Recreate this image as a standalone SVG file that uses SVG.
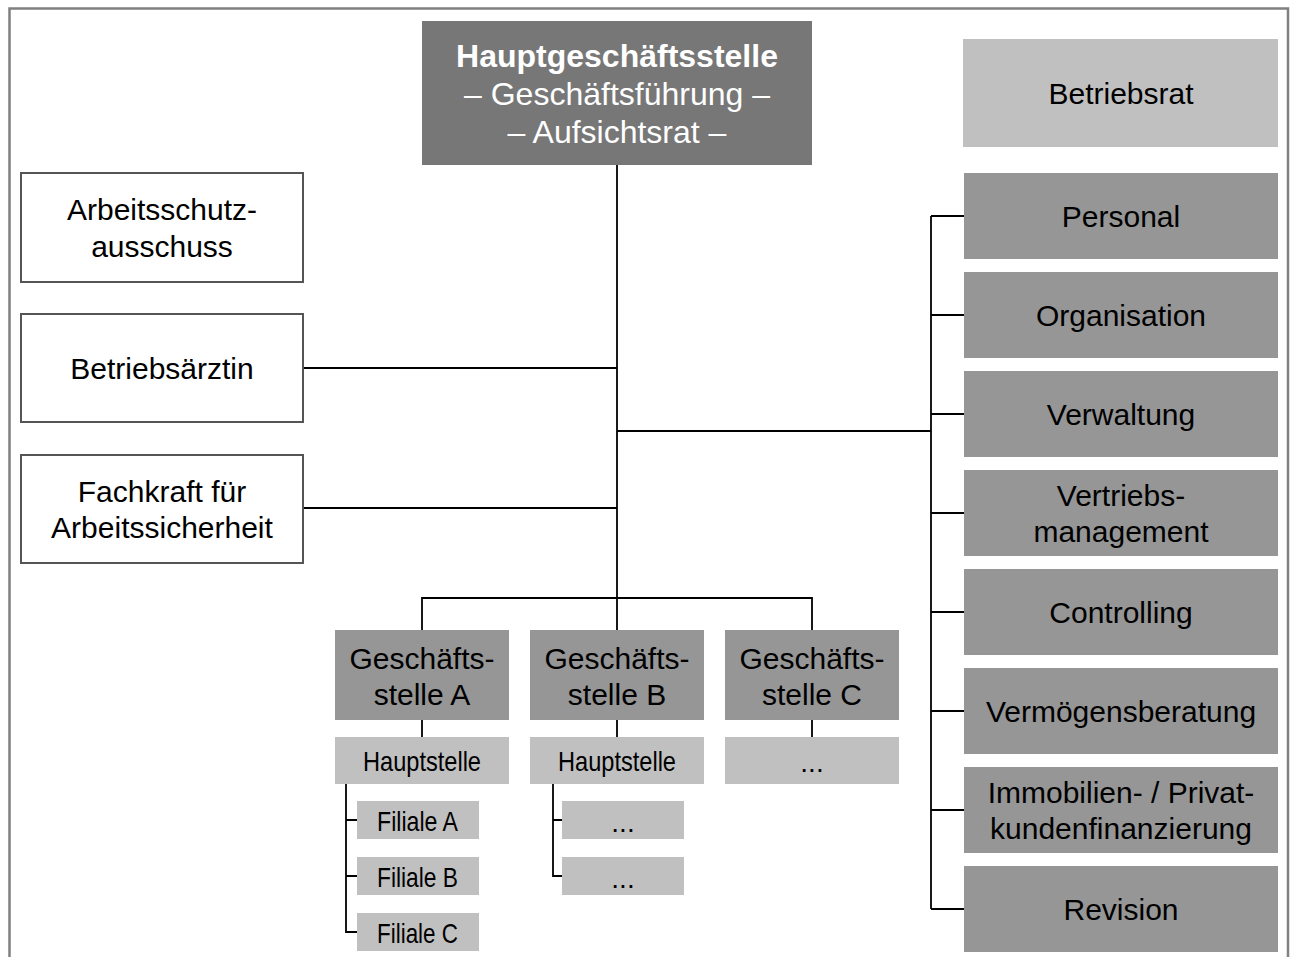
<svg xmlns="http://www.w3.org/2000/svg" width="1295" height="957" viewBox="0 0 1295 957">
<style>
text{font-family:"Liberation Sans",Arial,sans-serif;text-anchor:middle;fill:#000}
.t{font-size:30px}
.top{font-size:32px;fill:#fff}
.n{font-size:28px}
.dark{fill:#777777}
.mid{fill:#969696}
.light{fill:#c0c0c0}
.white{fill:#fff;stroke:#555;stroke-width:2}
.c{fill:none;stroke:#000;stroke-width:1.8}
</style>
<rect width="1295" height="957" fill="#fff"/>
<path d="M9.5,957 V8.5 H1288 V957" fill="none" stroke="#808080" stroke-width="2.5"/>
<g id="connectors" class="c">
<path d="M617,165 V598"/>
<path d="M303,368 H617"/>
<path d="M303,508 H617"/>
<path d="M617,431 H931"/>
<path d="M931,216 V909"/>
<path d="M931,216 H964 M931,315 H964 M931,414 H964 M931,513 H964 M931,612 H964 M931,711 H964 M931,810 H964 M931,909 H964"/>
<path d="M422,630 V598 H812 V630 M617,598 V630"/>
<path d="M422,720 V737 M617,720 V737 M812,720 V737"/>
<path d="M346,784 V932 H357 M346,820 H357 M346,876 H357"/>
<path d="M553,784 V876 H562 M553,820 H562"/>
</g>
<g id="hauptgeschaeftsstelle">
<rect class="dark" x="422" y="21" width="390" height="144"/>
<text class="top" x="617" y="67" font-weight="bold">Hauptgeschäftsstelle</text>
<text class="top" x="617" y="105">– Geschäftsführung –</text>
<text class="top" x="617" y="143">– Aufsichtsrat –</text>
</g>
<g id="betriebsrat">
<rect class="light" x="963" y="39" width="315" height="108"/>
<text class="t" x="1121" y="104">Betriebsrat</text>
</g>
<g id="arbeitsschutzausschuss">
<rect class="white" x="21" y="173" width="282" height="109"/>
<text class="t" x="162" y="220">Arbeitsschutz-</text>
<text class="t" x="162" y="257">ausschuss</text>
</g>
<g id="betriebsaerztin">
<rect class="white" x="21" y="314" width="282" height="108"/>
<text class="t" x="162" y="379">Betriebsärztin</text>
</g>
<g id="fachkraft">
<rect class="white" x="21" y="455" width="282" height="108"/>
<text class="t" x="162" y="502">Fachkraft für</text>
<text class="t" x="162" y="538">Arbeitssicherheit</text>
</g>
<g id="personal">
<rect class="mid" x="964" y="173" width="314" height="86"/>
<text class="t" x="1121" y="227">Personal</text>
</g>
<g id="organisation">
<rect class="mid" x="964" y="272" width="314" height="86"/>
<text class="t" x="1121" y="326">Organisation</text>
</g>
<g id="verwaltung">
<rect class="mid" x="964" y="371" width="314" height="86"/>
<text class="t" x="1121" y="425">Verwaltung</text>
</g>
<g id="vertriebsmanagement">
<rect class="mid" x="964" y="470" width="314" height="86"/>
<text class="t" x="1121" y="506">Vertriebs-</text>
<text class="t" x="1121" y="542">management</text>
</g>
<g id="controlling">
<rect class="mid" x="964" y="569" width="314" height="86"/>
<text class="t" x="1121" y="623">Controlling</text>
</g>
<g id="vermoegensberatung">
<rect class="mid" x="964" y="668" width="314" height="86"/>
<text class="t" x="1121" y="722">Vermögensberatung</text>
</g>
<g id="immobilien">
<rect class="mid" x="964" y="767" width="314" height="86"/>
<text class="t" x="1121" y="803">Immobilien- / Privat-</text>
<text class="t" x="1121" y="839">kundenfinanzierung</text>
</g>
<g id="revision">
<rect class="mid" x="964" y="866" width="314" height="86"/>
<text class="t" x="1121" y="920">Revision</text>
</g>
<g id="gs-a">
<rect class="mid" x="335" y="630" width="174" height="90"/>
<text class="t" x="422" y="669">Geschäfts-</text>
<text class="t" x="422" y="705">stelle A</text>
</g>
<g id="gs-b">
<rect class="mid" x="530" y="630" width="174" height="90"/>
<text class="t" x="617" y="669">Geschäfts-</text>
<text class="t" x="617" y="705">stelle B</text>
</g>
<g id="gs-c">
<rect class="mid" x="725" y="630" width="174" height="90"/>
<text class="t" x="812" y="669">Geschäfts-</text>
<text class="t" x="812" y="705">stelle C</text>
</g>
<g id="hs-a">
<rect class="light" x="335" y="737" width="174" height="47"/>
<text class="n" x="422" y="771" textLength="118" lengthAdjust="spacingAndGlyphs">Hauptstelle</text>
</g>
<g id="hs-b">
<rect class="light" x="530" y="737" width="174" height="47"/>
<text class="n" x="617" y="771" textLength="118" lengthAdjust="spacingAndGlyphs">Hauptstelle</text>
</g>
<g id="hs-c">
<rect class="light" x="725" y="737" width="174" height="47"/>
<text class="n" x="812" y="772">...</text>
</g>
<g id="filiale-a">
<rect class="light" x="357" y="801" width="122" height="38"/>
<text class="n" x="417.5" y="831" textLength="81" lengthAdjust="spacingAndGlyphs">Filiale A</text>
</g>
<g id="filiale-b">
<rect class="light" x="357" y="857" width="122" height="38"/>
<text class="n" x="417.5" y="887" textLength="81" lengthAdjust="spacingAndGlyphs">Filiale B</text>
</g>
<g id="filiale-c">
<rect class="light" x="357" y="913" width="122" height="38"/>
<text class="n" x="417.5" y="943" textLength="81" lengthAdjust="spacingAndGlyphs">Filiale C</text>
</g>
<g id="b-sub1">
<rect class="light" x="562" y="801" width="122" height="38"/>
<text class="n" x="623" y="832">...</text>
</g>
<g id="b-sub2">
<rect class="light" x="562" y="857" width="122" height="38"/>
<text class="n" x="623" y="888">...</text>
</g>
</svg>
